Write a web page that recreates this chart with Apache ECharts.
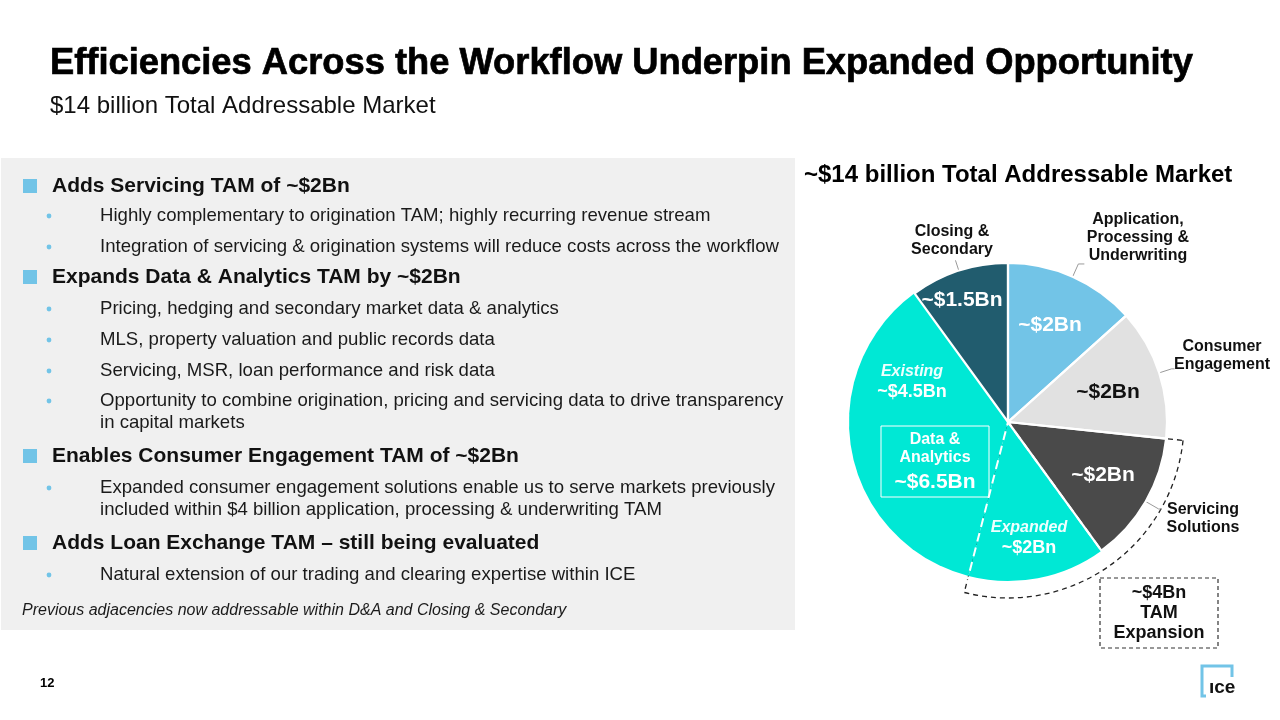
<!DOCTYPE html>
<html>
<head>
<meta charset="utf-8">
<script src="https://cdn.jsdelivr.net/npm/echarts@6.0.0/dist/echarts.min.js"></script>
<style>
html,body{margin:0;padding:0;background:#ffffff;}
#chart{width:1280px;height:720px;}
</style>
</head>
<body>
<div id="chart"></div>
<script>
// ---------------- DATA ----------------
const slideTitle = 'Efficiencies Across the Workflow Underpin Expanded Opportunity';
const slideSubtitle = '$14 billion Total Addressable Market';
const chartTitle = '~$14 billion Total Addressable Market';

// pie slices, clockwise from 12 o'clock (angles)
const sliceNames = ['Application, Processing & Underwriting', 'Consumer Engagement', 'Servicing Solutions',
  'Data & Analytics – Expanded', 'Data & Analytics – Existing', 'Closing & Secondary'];
const sliceValues = [2, 2, 2, 2.1, 5.4, 1.5];
const sliceValueLabels = ['~$2Bn', '~$2Bn', '~$2Bn', '~$2Bn', '~$4.5Bn', '~$1.5Bn'];
const sliceTagLabels = ['', '', '', 'Expanded', 'Existing', ''];
const sliceOuterLabels = ['Application,\nProcessing &\nUnderwriting', 'Consumer\nEngagement', 'Servicing\nSolutions', '', '', 'Closing &\nSecondary'];

const dataAnalyticsLines = ['Data &', 'Analytics', '~$6.5Bn'];
const tamExpansionLines = ['~$4Bn', 'TAM', 'Expansion'];

const bulletItems = [
  { level: 1, lines: ['Adds Servicing TAM of ~$2Bn'] },
  { level: 2, lines: ['Highly complementary to origination TAM; highly recurring revenue stream'] },
  { level: 2, lines: ['Integration of servicing & origination systems will reduce costs across the workflow'] },
  { level: 1, lines: ['Expands Data & Analytics TAM by ~$2Bn'] },
  { level: 2, lines: ['Pricing, hedging and secondary market data & analytics'] },
  { level: 2, lines: ['MLS, property valuation and public records data'] },
  { level: 2, lines: ['Servicing, MSR, loan performance and risk data'] },
  { level: 2, lines: ['Opportunity to combine origination, pricing and servicing data to drive transparency', 'in capital markets'] },
  { level: 1, lines: ['Enables Consumer Engagement TAM of ~$2Bn'] },
  { level: 2, lines: ['Expanded consumer engagement solutions enable us to serve markets previously', 'included within $4 billion application, processing & underwriting TAM'] },
  { level: 1, lines: ['Adds Loan Exchange TAM – still being evaluated'] },
  { level: 2, lines: ['Natural extension of our trading and clearing expertise within ICE'] }
];
const footNote = 'Previous adjacencies now addressable within D&A and Closing & Secondary';
const pageNumber = '12';

// ---------------- LAYOUT / STYLE ----------------
const FONT = "'Liberation Sans', Arial, Helvetica, sans-serif";
const CX = 1008, CY = 422, R = 159, R_OUT = 176;
const sliceColors = ['#72C4E7', '#E1E1E1', '#4A4A4A', '#00E8D5', '#00E8D5', '#215C6E'];
const valueLabelColors = ['#ffffff', '#111111', '#ffffff', '#ffffff', '#ffffff', '#ffffff'];
const valueLabelOffsets = [[42, -97], [100, -30], [95, 53], [21, 116], [-96, -40], [-46, -122]];
const outerLabelPos = [[1138, 238], [1222, 356], [1203, 519], null, null, [952, 241]];
const outerLineLen = [[14, 6], [13, 3], [15, 2], [0, 0], [0, 0], [11, 0]];
const bulletY = [186, 216, 247, 277, 309, 340, 371, 401, 456, 488, 543, 575];
const WRAP_GAP = 22;
const ACCENT = '#72C4E7';

// ---------------- BUILD ----------------
const chart = echarts.init(document.getElementById('chart'), null, { renderer: 'canvas' });

function txt(text, x, y, font, fill, align, extra) {
  const st = Object.assign({
    text: text, x: x, y: y, font: font, fill: fill,
    align: align || 'left', textAlign: align || 'left',
    verticalAlign: 'middle', textVerticalAlign: 'middle'
  }, extra || {});
  return { type: 'text', silent: true, z: 10, style: st };
}

const graphics = [];
// gray panel
graphics.push({ type: 'rect', silent: true, z: 0, shape: { x: 1, y: 158, width: 794, height: 472 }, style: { fill: '#F0F0F0' } });
// titles
graphics.push(txt(slideTitle, 50, 64, 'bold 36.3px ' + FONT, '#000000', 'left', { stroke: '#000000', lineWidth: 0.7 }));
graphics.push(txt(slideSubtitle, 50, 106, '24px ' + FONT, '#111111'));
graphics.push(txt(chartTitle, 804, 175, 'bold 24px ' + FONT, '#000000'));
// bullets
bulletItems.forEach(function (b, i) {
  const y = bulletY[i];
  if (b.level === 1) {
    graphics.push({ type: 'rect', silent: true, z: 5, shape: { x: 23, y: y - 7, width: 14, height: 14 }, style: { fill: ACCENT } });
    b.lines.forEach(function (l, k) { graphics.push(txt(l, 52, y + k * WRAP_GAP, 'bold 21px ' + FONT, '#111111')); });
  } else {
    graphics.push({ type: 'circle', silent: true, z: 5, shape: { cx: 49, cy: y, r: 2.4 }, style: { fill: ACCENT } });
    b.lines.forEach(function (l, k) { graphics.push(txt(l, 100, y + k * WRAP_GAP, '18.6px ' + FONT, '#1a1a1a')); });
  }
});
graphics.push(txt(footNote, 22, 611, 'italic 16px ' + FONT, '#1a1a1a'));
graphics.push(txt(pageNumber, 40, 683, 'bold 13px ' + FONT, '#000000'));

// Data & Analytics box
graphics.push({ type: 'rect', silent: true, z: 10, shape: { x: 881, y: 426, width: 108, height: 71 }, style: { fill: 'none', stroke: '#ffffff', lineWidth: 1 } });
graphics.push(txt(dataAnalyticsLines[0], 935, 440, 'bold 16px ' + FONT, '#ffffff', 'center'));
graphics.push(txt(dataAnalyticsLines[1], 935, 458, 'bold 16px ' + FONT, '#ffffff', 'center'));
graphics.push(txt(dataAnalyticsLines[2], 935, 482, 'bold 21px ' + FONT, '#ffffff', 'center'));

// TAM expansion box
graphics.push({ type: 'rect', silent: true, z: 10, shape: { x: 1100, y: 578, width: 118, height: 70 }, style: { fill: 'none', stroke: '#333333', lineWidth: 1.2, lineDash: [4, 3] } });
tamExpansionLines.forEach(function (l, k) {
  graphics.push(txt(l, 1159, 593 + k * 20, 'bold 18px ' + FONT, '#111111', 'center'));
});

// ICE logo
graphics.push({ type: 'polyline', silent: true, z: 10, shape: { points: [[1232, 677], [1232, 666], [1202, 666], [1202, 696], [1206, 696]] }, style: { stroke: ACCENT, lineWidth: 3, fill: 'none' } });
graphics.push(txt('\u0131ce', 1209, 688, 'bold 19px ' + FONT, '#111111'));

// pie data
const mainData = sliceValues.map(function (v, i) {
  const tag = sliceTagLabels[i];
  return {
    name: sliceNames[i], value: v,
    itemStyle: { color: sliceColors[i], borderWidth: 0 },
    label: {
      formatter: tag ? '{t|' + tag + '}\n{v|' + sliceValueLabels[i] + '}' : '{v|' + sliceValueLabels[i] + '}',
      rich: {
        t: { fontFamily: FONT, fontStyle: 'italic', fontWeight: 'bold', fontSize: 16, color: '#EFFFFE', lineHeight: 20, align: 'center' },
        v: { fontFamily: FONT, fontWeight: 'bold', fontSize: tag ? 18 : 21, color: valueLabelColors[i], lineHeight: tag ? 20 : 24, align: 'center' }
      }
    }
  };
});

// solid white separators + outer category labels
const overlayData = sliceValues.map(function (v, i) {
  const isDA = i === 3 || i === 4;
  const hasLabel = !!sliceOuterLabels[i];
  return {
    name: sliceNames[i], value: v,
    itemStyle: { color: 'rgba(0,0,0,0)', borderColor: '#ffffff', borderWidth: isDA ? 0 : 2.2 },
    label: { show: hasLabel, formatter: sliceOuterLabels[i] },
    labelLine: { show: hasLabel, length: outerLineLen[i][0], length2: outerLineLen[i][1] }
  };
});

// dashed white split between existing and expanded D&A
const splitData = [sliceValues[0] + sliceValues[1] + sliceValues[2], sliceValues[3], sliceValues[4] + sliceValues[5]].map(function (v, i) {
  return {
    value: v,
    itemStyle: i === 1
      ? { color: 'rgba(0,0,0,0)', borderColor: '#ffffff', borderWidth: 2, borderType: [9, 6] }
      : { color: 'rgba(0,0,0,0)', borderWidth: 0 }
  };
});

// dashed black outline of the ~$4Bn expansion (servicing + expanded D&A)
const groupValues = [sliceValues[0] + sliceValues[1], sliceValues[2] + sliceValues[3], sliceValues[4] + sliceValues[5]];
const underData = groupValues.map(function (v, i) {
  return {
    value: v,
    itemStyle: i === 1
      ? { color: 'rgba(0,0,0,0)', borderColor: '#222222', borderWidth: 1.3, borderType: [5, 4] }
      : { color: 'rgba(0,0,0,0)', borderWidth: 0 }
  };
});

const commonPie = {
  type: 'pie', center: [CX, CY], startAngle: 90, clockwise: true,
  silent: true, animation: false, avoidLabelOverlap: false,
  minAngle: 0, padAngle: 0, emphasis: { disabled: true }, selectedMode: false
};

chart.setOption({
  backgroundColor: '#ffffff',
  animation: false,
  graphic: { elements: graphics },
  series: [
    Object.assign({}, commonPie, {
      name: 'tamExpansion', z: 1, radius: R_OUT, data: underData,
      label: { show: false }, labelLine: { show: false }
    }),
    Object.assign({}, commonPie, {
      name: 'tam', z: 2, radius: R, data: mainData,
      label: { show: true, position: 'inside' }, labelLine: { show: false },
      labelLayout: function (p) {
        const o = valueLabelOffsets[p.dataIndex];
        return { x: CX + o[0], y: CY + o[1], align: 'center', verticalAlign: 'middle', hideOverlap: false };
      }
    }),
    Object.assign({}, commonPie, {
      name: 'separators', z: 3, radius: R, data: overlayData,
      label: {
        show: true, position: 'outside', fontFamily: FONT, fontWeight: 'bold', fontSize: 16,
        lineHeight: 18, color: '#111111', align: 'center'
      },
      labelLine: { show: true, length: 12, length2: 4, lineStyle: { color: '#9a9a9a', width: 1 } },
      labelLayout: function (p) {
        const pos = outerLabelPos[p.dataIndex];
        if (!pos) return {};
        return { x: pos[0], y: pos[1], align: 'center', verticalAlign: 'middle', hideOverlap: false, labelLinePoints: p.labelLinePoints };
      }
    }),
    Object.assign({}, commonPie, {
      name: 'split', z: 4, radius: R + 2.5, data: splitData,
      label: { show: false }, labelLine: { show: false }
    })
  ]
});
</script>
</body>
</html>
